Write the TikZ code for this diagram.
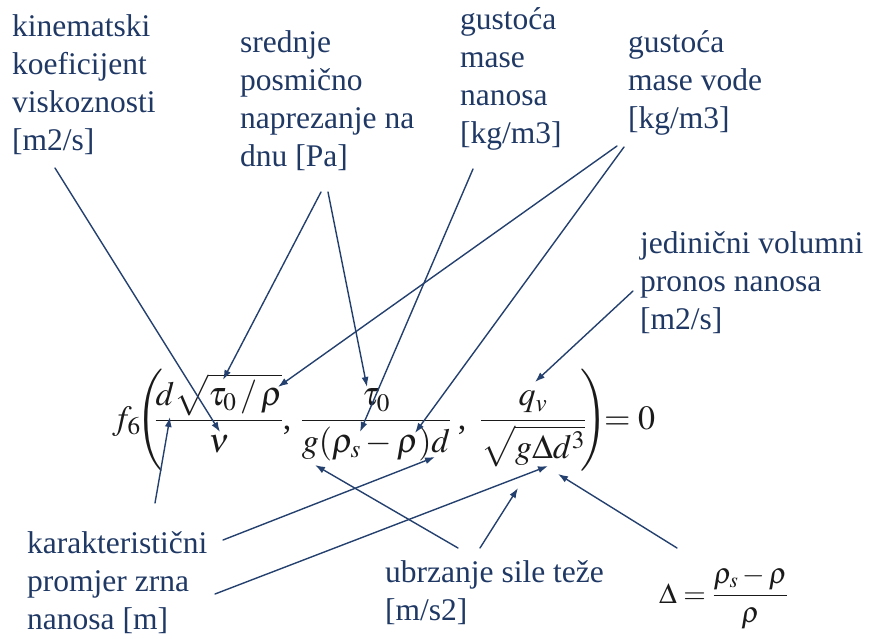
\documentclass[tikz,border=0pt]{standalone}
\usepackage{mathptmx}
\usepackage{fontspec}
\setmainfont{Liberation Serif}
\usetikzlibrary{arrows.meta}
\definecolor{LabelBlue}{HTML}{1F3864}
\definecolor{ArrowBlue}{HTML}{24406E}
\definecolor{EqGray}{HTML}{1A1A1A}

\begin{document}
\begin{tikzpicture}[x=1pt,y=-1pt,line cap=round,line join=round,
  lbl/.style={text=LabelBlue,font=\fontsize{31.5}{38}\selectfont,align=left,anchor=base west,inner sep=0pt},
  eq/.style={text=EqGray,font=\fontsize{34}{40}\selectfont,anchor=base,inner sep=0pt},
  ptr/.style={ArrowBlue,line width=1.4pt,-{Latex[length=10pt,width=7pt]}}]
  \useasboundingbox (0,0) rectangle (872,639);
  % labels (anchored at the baseline of their last line)
  \node[lbl] (visc) at (12,151) {kinematski\\koeficijent\\viskoznosti\\{[m2/s]}};
  \node[lbl] (shear) at (240,167) {srednje\\posmično\\naprezanje na\\dnu [Pa]};
  \node[lbl] (rhosed) at (460,144) {gustoća\\mase\\nanosa\\{[kg/m3]}};
  \node[lbl] (rhowat) at (628,129) {gustoća\\mase vode\\{[kg/m3]}};
  \node[lbl] (flux) at (640,329) {jedinični volumni\\pronos nanosa\\{[m2/s]}};
  \node[lbl] (diam) at (27,629) {karakteristični\\promjer zrna\\nanosa [m]};
  \node[lbl] (grav) at (385,620) {ubrzanje sile teže\\{[m/s2]}};
  % formula
  \node[eq,anchor=base east] (f6) at (141,429) {$f_6$};
  \node[eq] (lpar) at (151,429) {$\left(\vrule height 59pt depth 43pt width 0pt\right.$};
  \node[eq] (fr1) at (219,429) {$\displaystyle\frac{d\sqrt{\tau_0\,/\,\rho}}{\nu}$};
  \node[eq] (c1) at (287,429) {,};
  \node[eq] (fr2) at (376,429) {$\displaystyle\frac{\tau_0}{g(\rho_s-\rho)d}$};
  \node[eq] (c2) at (462,429) {,};
  \node[eq] (fr3) at (533,429) {$\displaystyle\frac{q_v}{\sqrt{g\Delta d^3}}$};
  \node[eq] (rpar) at (593,429) {$\left.\vrule height 59pt depth 43pt width 0pt\right)$};
  \node[eq,anchor=base west] (zero) at (604,429) {$=0$};
  \node[eq,anchor=base west,font=\fontsize{29}{34}\selectfont] (delta) at (659,603) {$\Delta=\displaystyle\frac{\rho_s-\rho}{\rho}$};
  % arrow ends
  \coordinate (sVisc) at (55,168); \coordinate (sTauA) at (321,192); \coordinate (sTauB) at (328,192);
  \coordinate (sRhoS) at (473,169); \coordinate (sRhoA) at (617,146); \coordinate (sRhoB) at (624,147);
  \coordinate (sQv) at (633,291); \coordinate (sDiamA) at (155,503); \coordinate (sDiamB) at (223,540);
  \coordinate (sDiamC) at (215,594); \coordinate (sGravA) at (458,548); \coordinate (sGravB) at (480,548);
  \coordinate (sDelta) at (677,548);
  \coordinate (tNu) at (220,432); \coordinate (tTauA) at (223,380); \coordinate (tRhoA) at (278,387);
  \coordinate (tTauB) at (367,387); \coordinate (tRhoS) at (360,432); \coordinate (tRhoB) at (415,433);
  \coordinate (tQv) at (535,382); \coordinate (tD1) at (170,417); \coordinate (tD2) at (435,457);
  \coordinate (tD3) at (548,466); \coordinate (tG2) at (315,465); \coordinate (tG3) at (518,488);
  \coordinate (tDelta) at (558,474);
  % pointers
  \draw[ptr] (sVisc)--(tNu); \draw[ptr] (sTauA)--(tTauA); \draw[ptr] (sTauB)--(tTauB);
  \draw[ptr] (sRhoS)--(tRhoS); \draw[ptr] (sRhoA)--(tRhoA); \draw[ptr] (sRhoB)--(tRhoB);
  \draw[ptr] (sQv)--(tQv); \draw[ptr] (sDiamA)--(tD1); \draw[ptr] (sDiamB)--(tD2); \draw[ptr] (sDiamC)--(tD3);
  \draw[ptr] (sGravA)--(tG2); \draw[ptr] (sGravB)--(tG3); \draw[ptr] (sDelta)--(tDelta);
\end{tikzpicture}
\end{document}
